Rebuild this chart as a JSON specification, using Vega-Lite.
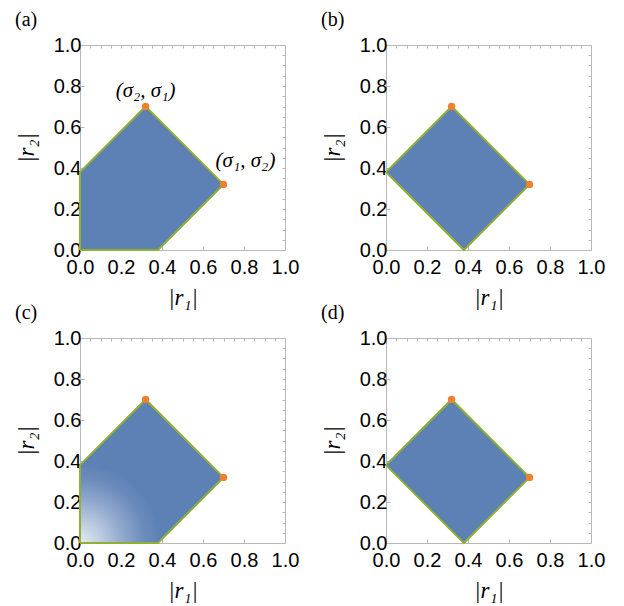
{
  "$schema": "https://vega.github.io/schema/vega-lite/v6.json",
  "background": "white",
  "autosize": {"type": "pad"},
  "padding": {"left": 14, "top": 9, "right": 5, "bottom": 5},
  "bounds": "flush",
  "columns": 2,
  "spacing": {"row": 88, "column": 101},
  "datasets": {
    "poly": [
      {"panel": "a", "x": 0, "lo": 0, "hi": 0.38},
      {"panel": "a", "x": 0.32, "lo": 0, "hi": 0.70},
      {"panel": "a", "x": 0.38, "lo": 0, "hi": 0.64},
      {"panel": "a", "x": 0.70, "lo": 0.32, "hi": 0.32},
      {"panel": "b", "x": 0, "lo": 0.38, "hi": 0.38},
      {"panel": "b", "x": 0.32, "lo": 0.06, "hi": 0.70},
      {"panel": "b", "x": 0.38, "lo": 0, "hi": 0.64},
      {"panel": "b", "x": 0.70, "lo": 0.32, "hi": 0.32},
      {"panel": "c", "x": 0, "lo": 0, "hi": 0.38},
      {"panel": "c", "x": 0.32, "lo": 0, "hi": 0.70},
      {"panel": "c", "x": 0.38, "lo": 0, "hi": 0.64},
      {"panel": "c", "x": 0.70, "lo": 0.32, "hi": 0.32},
      {"panel": "d", "x": 0, "lo": 0.38, "hi": 0.38},
      {"panel": "d", "x": 0.32, "lo": 0.06, "hi": 0.70},
      {"panel": "d", "x": 0.38, "lo": 0, "hi": 0.64},
      {"panel": "d", "x": 0.70, "lo": 0.32, "hi": 0.32}
    ],
    "outline": [
      {"panel": "a", "i": 0, "x": 0, "y": 0},
      {"panel": "a", "i": 1, "x": 0, "y": 0.38},
      {"panel": "a", "i": 2, "x": 0.32, "y": 0.70},
      {"panel": "a", "i": 3, "x": 0.70, "y": 0.32},
      {"panel": "a", "i": 4, "x": 0.38, "y": 0},
      {"panel": "a", "i": 5, "x": 0, "y": 0},
      {"panel": "b", "i": 0, "x": 0, "y": 0.38},
      {"panel": "b", "i": 1, "x": 0.32, "y": 0.70},
      {"panel": "b", "i": 2, "x": 0.70, "y": 0.32},
      {"panel": "b", "i": 3, "x": 0.38, "y": 0},
      {"panel": "b", "i": 4, "x": 0, "y": 0.38},
      {"panel": "c", "i": 0, "x": 0, "y": 0},
      {"panel": "c", "i": 1, "x": 0, "y": 0.38},
      {"panel": "c", "i": 2, "x": 0.32, "y": 0.70},
      {"panel": "c", "i": 3, "x": 0.70, "y": 0.32},
      {"panel": "c", "i": 4, "x": 0.38, "y": 0},
      {"panel": "c", "i": 5, "x": 0, "y": 0},
      {"panel": "d", "i": 0, "x": 0, "y": 0.38},
      {"panel": "d", "i": 1, "x": 0.32, "y": 0.70},
      {"panel": "d", "i": 2, "x": 0.70, "y": 0.32},
      {"panel": "d", "i": 3, "x": 0.38, "y": 0},
      {"panel": "d", "i": 4, "x": 0, "y": 0.38}
    ],
    "pts": [
      {"x": 0.32, "y": 0.70, "label": "(σ₂, σ₁)"},
      {"x": 0.70, "y": 0.32, "label": "(σ₁, σ₂)"}
    ]
  },
  "config": {
    "view": {"stroke": "#b8b8b8", "strokeWidth": 1},
    "axis": {
      "grid": false,
      "domain": false,
      "labelFont": "Liberation Sans",
      "labelFontSize": 20,
      "labelColor": "black",
      "labelFlush": false,
      "labelOverlap": false,
      "tickColor": "#b8b8b8",
      "tickSize": -4,
      "titleFont": "Liberation Serif",
      "titleFontStyle": "italic",
      "titleFontWeight": "normal",
      "titleFontSize": 23,
      "titleColor": "black"
    },
    "title": {
      "font": "Liberation Serif",
      "fontSize": 20,
      "fontWeight": "normal",
      "anchor": "start",
      "frame": "group",
      "dx": -65,
      "offset": 5,
      "color": "black"
    }
  },
  "concat": [
    {
      "width": 205, "height": 205,
      "title": "(a)",
      "layer": [
        {
          "data": {"name": "poly"},
          "transform": [{"filter": "datum.panel == 'a'"}],
          "mark": {"type": "area", "color": "#5e81b5", "opacity": 1},
          "encoding": {
            "x": {"field": "x", "type": "quantitative", "scale": {"domain": [0, 1], "nice": false},
                  "axis": {"orient": "bottom", "values": [0, 0.2, 0.4, 0.6, 0.8, 1], "format": ".1f", "labelPadding": 11, "title": "|r₁|", "titlePadding": 9}},
            "y": {"field": "lo", "type": "quantitative", "scale": {"domain": [0, 1], "nice": false},
                  "axis": {"orient": "left", "values": [0, 0.2, 0.4, 0.6, 0.8, 1], "format": ".1f", "labelPadding": 3, "title": "|r₂|", "titlePadding": 15}},
            "y2": {"field": "hi"}
          }
        },
        {
          "data": {"name": "outline"},
          "transform": [{"filter": "datum.panel == 'a'"}],
          "mark": {"type": "line", "color": "#8fb032", "strokeWidth": 2},
          "encoding": {
            "x": {"field": "x", "type": "quantitative", "scale": {"domain": [0, 1], "nice": false},
                  "axis": {"orient": "top", "values": [0.05,0.1,0.15,0.2,0.25,0.3,0.35,0.4,0.45,0.5,0.55,0.6,0.65,0.7,0.75,0.8,0.85,0.9,0.95], "labels": false, "title": null, "tickSize": -3}},
            "y": {"field": "y", "type": "quantitative", "scale": {"domain": [0, 1], "nice": false},
                  "axis": {"orient": "right", "values": [0.05,0.1,0.15,0.2,0.25,0.3,0.35,0.4,0.45,0.5,0.55,0.6,0.65,0.7,0.75,0.8,0.85,0.9,0.95], "labels": false, "title": null, "tickSize": -3}},
            "order": {"field": "i", "type": "quantitative"}
          }
        },
        {
          "data": {"name": "pts"},
          "mark": {"type": "circle", "color": "#ee8030", "opacity": 1, "size": 55},
          "encoding": {
            "x": {"field": "x", "type": "quantitative", "axis": null},
            "y": {"field": "y", "type": "quantitative", "axis": null}
          }
        },
        {
          "data": {"name": "pts"},
          "transform": [{"filter": "datum.x < 0.5"}],
          "mark": {"type": "text", "font": "Liberation Serif", "fontStyle": "italic", "fontSize": 21, "align": "center", "baseline": "bottom", "dy": -6, "color": "black"},
          "encoding": {
            "x": {"field": "x", "type": "quantitative", "axis": null},
            "y": {"field": "y", "type": "quantitative", "axis": null},
            "text": {"field": "label"}
          }
        },
        {
          "data": {"name": "pts"},
          "transform": [{"filter": "datum.x > 0.5"}],
          "mark": {"type": "text", "font": "Liberation Serif", "fontStyle": "italic", "fontSize": 21, "align": "center", "baseline": "bottom", "dx": 22, "dy": -13, "color": "black"},
          "encoding": {
            "x": {"field": "x", "type": "quantitative", "axis": null},
            "y": {"field": "y", "type": "quantitative", "axis": null},
            "text": {"field": "label"}
          }
        }
      ]
    },
    {
      "width": 205, "height": 205,
      "title": "(b)",
      "layer": [
        {
          "data": {"name": "poly"},
          "transform": [{"filter": "datum.panel == 'b'"}],
          "mark": {"type": "area", "color": "#5e81b5", "opacity": 1},
          "encoding": {
            "x": {"field": "x", "type": "quantitative", "scale": {"domain": [0, 1], "nice": false},
                  "axis": {"orient": "bottom", "values": [0, 0.2, 0.4, 0.6, 0.8, 1], "format": ".1f", "labelPadding": 11, "title": "|r₁|", "titlePadding": 9}},
            "y": {"field": "lo", "type": "quantitative", "scale": {"domain": [0, 1], "nice": false},
                  "axis": {"orient": "left", "values": [0, 0.2, 0.4, 0.6, 0.8, 1], "format": ".1f", "labelPadding": 3, "title": "|r₂|", "titlePadding": 15}},
            "y2": {"field": "hi"}
          }
        },
        {
          "data": {"name": "outline"},
          "transform": [{"filter": "datum.panel == 'b'"}],
          "mark": {"type": "line", "color": "#8fb032", "strokeWidth": 2},
          "encoding": {
            "x": {"field": "x", "type": "quantitative", "scale": {"domain": [0, 1], "nice": false},
                  "axis": {"orient": "top", "values": [0.05,0.1,0.15,0.2,0.25,0.3,0.35,0.4,0.45,0.5,0.55,0.6,0.65,0.7,0.75,0.8,0.85,0.9,0.95], "labels": false, "title": null, "tickSize": -3}},
            "y": {"field": "y", "type": "quantitative", "scale": {"domain": [0, 1], "nice": false},
                  "axis": {"orient": "right", "values": [0.05,0.1,0.15,0.2,0.25,0.3,0.35,0.4,0.45,0.5,0.55,0.6,0.65,0.7,0.75,0.8,0.85,0.9,0.95], "labels": false, "title": null, "tickSize": -3}},
            "order": {"field": "i", "type": "quantitative"}
          }
        },
        {
          "data": {"name": "pts"},
          "mark": {"type": "circle", "color": "#ee8030", "opacity": 1, "size": 55},
          "encoding": {
            "x": {"field": "x", "type": "quantitative", "axis": null},
            "y": {"field": "y", "type": "quantitative", "axis": null}
          }
        }
      ]
    },
    {
      "width": 205, "height": 205,
      "title": "(c)",
      "layer": [
        {
          "data": {"name": "poly"},
          "transform": [{"filter": "datum.panel == 'c'"}],
          "mark": {"type": "area", "opacity": 1, "fill": {"gradient": "radial", "x1": 0, "y1": 1, "r1": 0, "x2": 0, "y2": 1, "r2": 1,
                   "stops": [{"offset": 0, "color": "#e6ebf3"}, {"offset": 0.14, "color": "#bfcde2"}, {"offset": 0.3, "color": "#90a8cd"}, {"offset": 0.46, "color": "#6a8abb"}, {"offset": 0.55, "color": "#5e81b5"}, {"offset": 1, "color": "#5e81b5"}]}},
          "encoding": {
            "x": {"field": "x", "type": "quantitative", "scale": {"domain": [0, 1], "nice": false},
                  "axis": {"orient": "bottom", "values": [0, 0.2, 0.4, 0.6, 0.8, 1], "format": ".1f", "labelPadding": 11, "title": "|r₁|", "titlePadding": 9}},
            "y": {"field": "lo", "type": "quantitative", "scale": {"domain": [0, 1], "nice": false},
                  "axis": {"orient": "left", "values": [0, 0.2, 0.4, 0.6, 0.8, 1], "format": ".1f", "labelPadding": 3, "title": "|r₂|", "titlePadding": 15}},
            "y2": {"field": "hi"}
          }
        },
        {
          "data": {"name": "outline"},
          "transform": [{"filter": "datum.panel == 'c'"}],
          "mark": {"type": "line", "color": "#8fb032", "strokeWidth": 2},
          "encoding": {
            "x": {"field": "x", "type": "quantitative", "scale": {"domain": [0, 1], "nice": false},
                  "axis": {"orient": "top", "values": [0.05,0.1,0.15,0.2,0.25,0.3,0.35,0.4,0.45,0.5,0.55,0.6,0.65,0.7,0.75,0.8,0.85,0.9,0.95], "labels": false, "title": null, "tickSize": -3}},
            "y": {"field": "y", "type": "quantitative", "scale": {"domain": [0, 1], "nice": false},
                  "axis": {"orient": "right", "values": [0.05,0.1,0.15,0.2,0.25,0.3,0.35,0.4,0.45,0.5,0.55,0.6,0.65,0.7,0.75,0.8,0.85,0.9,0.95], "labels": false, "title": null, "tickSize": -3}},
            "order": {"field": "i", "type": "quantitative"}
          }
        },
        {
          "data": {"name": "pts"},
          "mark": {"type": "circle", "color": "#ee8030", "opacity": 1, "size": 55},
          "encoding": {
            "x": {"field": "x", "type": "quantitative", "axis": null},
            "y": {"field": "y", "type": "quantitative", "axis": null}
          }
        }
      ]
    },
    {
      "width": 205, "height": 205,
      "title": "(d)",
      "layer": [
        {
          "data": {"name": "poly"},
          "transform": [{"filter": "datum.panel == 'd'"}],
          "mark": {"type": "area", "color": "#5e81b5", "opacity": 1},
          "encoding": {
            "x": {"field": "x", "type": "quantitative", "scale": {"domain": [0, 1], "nice": false},
                  "axis": {"orient": "bottom", "values": [0, 0.2, 0.4, 0.6, 0.8, 1], "format": ".1f", "labelPadding": 11, "title": "|r₁|", "titlePadding": 9}},
            "y": {"field": "lo", "type": "quantitative", "scale": {"domain": [0, 1], "nice": false},
                  "axis": {"orient": "left", "values": [0, 0.2, 0.4, 0.6, 0.8, 1], "format": ".1f", "labelPadding": 3, "title": "|r₂|", "titlePadding": 15}},
            "y2": {"field": "hi"}
          }
        },
        {
          "data": {"name": "outline"},
          "transform": [{"filter": "datum.panel == 'd'"}],
          "mark": {"type": "line", "color": "#8fb032", "strokeWidth": 2},
          "encoding": {
            "x": {"field": "x", "type": "quantitative", "scale": {"domain": [0, 1], "nice": false},
                  "axis": {"orient": "top", "values": [0.05,0.1,0.15,0.2,0.25,0.3,0.35,0.4,0.45,0.5,0.55,0.6,0.65,0.7,0.75,0.8,0.85,0.9,0.95], "labels": false, "title": null, "tickSize": -3}},
            "y": {"field": "y", "type": "quantitative", "scale": {"domain": [0, 1], "nice": false},
                  "axis": {"orient": "right", "values": [0.05,0.1,0.15,0.2,0.25,0.3,0.35,0.4,0.45,0.5,0.55,0.6,0.65,0.7,0.75,0.8,0.85,0.9,0.95], "labels": false, "title": null, "tickSize": -3}},
            "order": {"field": "i", "type": "quantitative"}
          }
        },
        {
          "data": {"name": "pts"},
          "mark": {"type": "circle", "color": "#ee8030", "opacity": 1, "size": 55},
          "encoding": {
            "x": {"field": "x", "type": "quantitative", "axis": null},
            "y": {"field": "y", "type": "quantitative", "axis": null}
          }
        }
      ]
    }
  ]
}
